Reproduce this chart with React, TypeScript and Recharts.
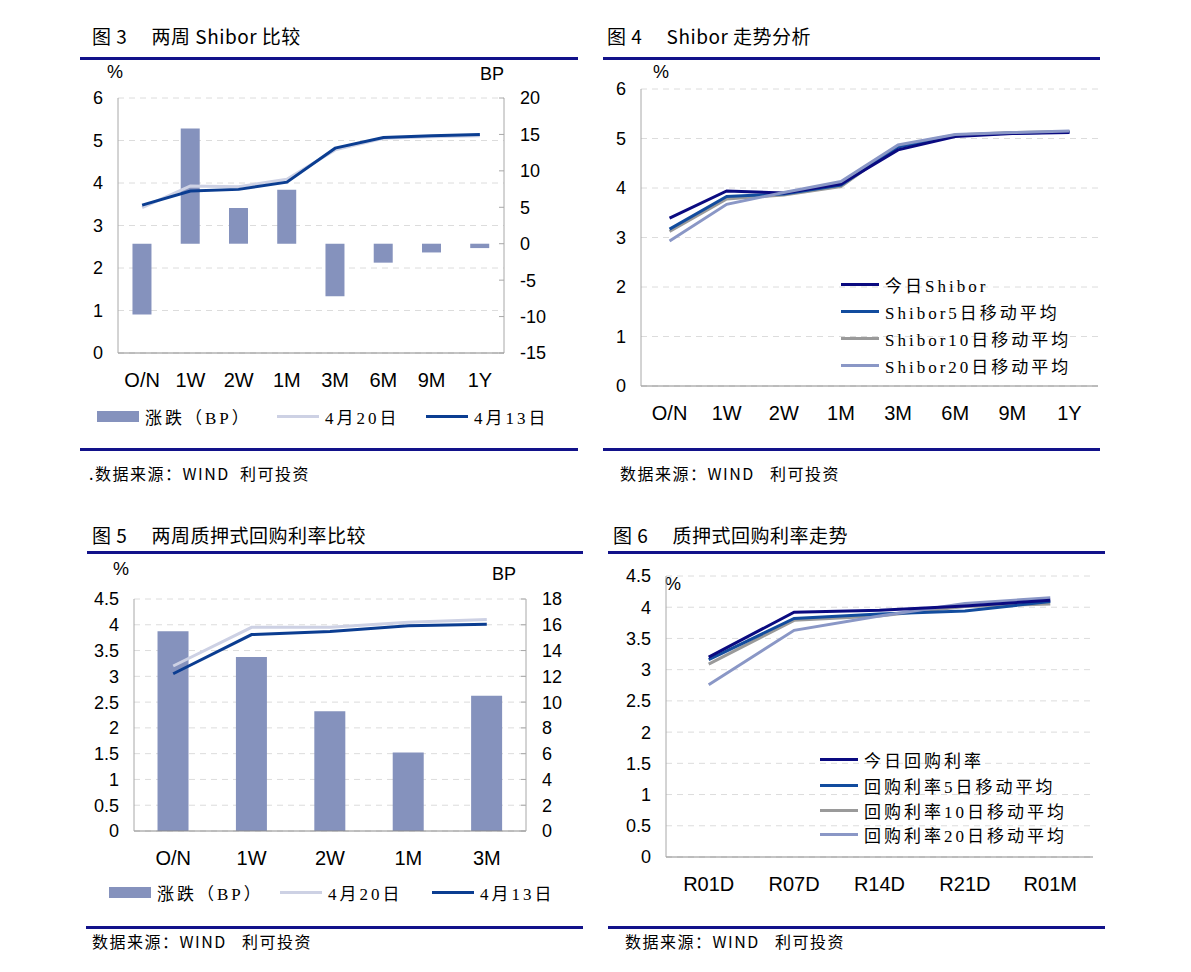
import React from 'react';
import {
  ComposedChart, Bar, Line, XAxis, YAxis, CartesianGrid, LineChart,
} from 'recharts';

// ---- data ----
const shiborTerms = ['O/N', '1W', '2W', '1M', '3M', '6M', '9M', '1Y'];
const shiborChangeBP = [-9.7, 15.8, 4.9, 7.4, -7.2, -2.6, -1.2, -0.6];
const shiborApr20 = [3.42, 3.93, 3.91, 4.09, 4.78, 5.05, 5.09, 5.11];
const shiborApr13 = [3.48, 3.81, 3.85, 4.02, 4.82, 5.07, 5.11, 5.14];

const shiborToday = [3.39, 3.94, 3.9, 4.08, 4.77, 5.04, 5.1, 5.12];
const shiborMA5 = [3.17, 3.83, 3.88, 4.06, 4.83, 5.06, 5.11, 5.13];
const shiborMA10 = [3.12, 3.78, 3.86, 4.03, 4.85, 5.07, 5.12, 5.14];
const shiborMA20 = [2.93, 3.67, 3.91, 4.13, 4.87, 5.08, 5.12, 5.15];

const repoTerms = ['O/N', '1W', '2W', '1M', '3M'];
const repoChangeBP = [15.5, 13.5, 9.3, 6.1, 10.5];
const repoApr20 = [3.2, 3.95, 3.95, 4.05, 4.1];
const repoApr13 = [3.05, 3.81, 3.87, 3.98, 4.01];

const repoCodes = ['R01D', 'R07D', 'R14D', 'R21D', 'R01M'];
const repoToday = [3.2, 3.92, 3.95, 4.02, 4.11];
const repoMA5 = [3.16, 3.82, 3.89, 3.94, 4.09];
const repoMA10 = [3.09, 3.79, 3.86, 4.01, 4.05];
const repoMA20 = [2.76, 3.63, 3.86, 4.06, 4.15];

const leftTicks1 = [0, 1, 2, 3, 4, 5, 6];
const rightTicks1 = [-15, -10, -5, 0, 5, 10, 15, 20];
const leftTicks3 = [0, 0.5, 1, 1.5, 2, 2.5, 3, 3.5, 4, 4.5];
const rightTicks3 = [0, 2, 4, 6, 8, 10, 12, 14, 16, 18];

// ---- styles ----
const BAR = '#8592bd';
const LIGHT = '#cdd1e4';
const DARK = '#0b3d91';
const NAVY = '#0a0a80';
const MID = '#124c9e';
const GREY = '#9a9a9a';
const STEEL = '#8a97c6';
const RULE = '#12128a';
const AXIS = '#a8a8a8';
const GRID = '#dcdcdc';
const NUM_FONT = '"Liberation Sans", Arial, sans-serif';
const CJK = '"Noto Sans CJK SC", "Liberation Sans", sans-serif';
const LEG_FONT = '"Liberation Serif", "Noto Sans CJK SC", serif';

type Plot = { left: number; top: number; right: number; bottom: number };

const P1: Plot = { left: 118, top: 98, right: 504, bottom: 353 };
const P2: Plot = { left: 641, top: 89, right: 1098, bottom: 386 };
const P3: Plot = { left: 134, top: 599, right: 526, bottom: 831 };
const P4: Plot = { left: 666, top: 576, right: 1093, bottom: 857 };

function box(p: Plot, hasRight: boolean) {
  return {
    left: p.left - 60,
    top: p.top - 10,
    width: p.right - p.left + 60 + 70,
    height: p.bottom - p.top + 10 + 50,
    margin: { top: 10, left: 0, bottom: 0, right: hasRight ? 10 : 70 },
  };
}

// category label plus the small inward tick at each band boundary
function makeCatTick(p: Plot, n: number) {
  const band = (p.right - p.left) / n;
  return (props: any) => {
    const { x, y, payload } = props;
    const ex = x + band / 2;
    return (
      <g>
        <line x1={ex} x2={ex} y1={p.bottom} y2={p.bottom - 5} stroke={AXIS} />
        <text x={x} y={y} dy="0.71em" textAnchor="middle" fill="#000"
          fontSize={20} fontFamily={NUM_FONT}>{payload.value}</text>
      </g>
    );
  };
}

const numTick = { fill: '#000', fontSize: 18, fontFamily: NUM_FONT };

function Abs({ x, y, children, style }: any) {
  return <div style={{ position: 'absolute', left: x, top: y, whiteSpace: 'pre', ...style }}>{children}</div>;
}

function Title({ x, y, text }: { x: number; y: number; text: string }) {
  return <Abs x={x} y={y - 13} style={{ fontFamily: CJK, fontSize: 19, lineHeight: '26px', letterSpacing: 0.5, color: '#000' }}>{text}</Abs>;
}

function Rule({ x1, x2, y }: { x1: number; x2: number; y: number }) {
  return <div style={{ position: 'absolute', left: x1, top: y - 1, width: x2 - x1, height: 3, background: RULE }} />;
}

function Source({ x, y, text }: { x: number; y: number; text: string }) {
  return <Abs x={x} y={y - 11} style={{ fontFamily: CJK, fontSize: 16, lineHeight: '22px', letterSpacing: 1.5, color: '#000' }}>{text}</Abs>;
}

function Unit({ x, y, text }: { x: number; y: number; text: string }) {
  return <Abs x={x} y={y - 11} style={{ fontFamily: NUM_FONT, fontSize: 18, lineHeight: '22px', color: '#000' }}>{text}</Abs>;
}

function LegendItem({ x, y, color, kind, label, sw = 42 }: any) {
  return (
    <Abs x={x} y={y - 11} style={{ display: 'flex', alignItems: 'center', height: 22 }}>
      <div style={{ width: sw, height: kind === 'bar' ? 11 : 3, background: color, marginRight: 6 }} />
      <span style={{ fontFamily: LEG_FONT, fontSize: 17, letterSpacing: 3, color: '#000' }}>{label}</span>
    </Abs>
  );
}

export default function App() {
  const d1 = shiborTerms.map((t, i) => ({ t, bp: shiborChangeBP[i], a20: shiborApr20[i], a13: shiborApr13[i] }));
  const d2 = shiborTerms.map((t, i) => ({ t, today: shiborToday[i], ma5: shiborMA5[i], ma10: shiborMA10[i], ma20: shiborMA20[i] }));
  const d3 = repoTerms.map((t, i) => ({ t, bp: repoChangeBP[i], a20: repoApr20[i], a13: repoApr13[i] }));
  const d4 = repoCodes.map((t, i) => ({ t, today: repoToday[i], ma5: repoMA5[i], ma10: repoMA10[i], ma20: repoMA20[i] }));

  const b1 = box(P1, true);
  const b2 = box(P2, false);
  const b3 = box(P3, true);
  const b4 = box(P4, false);

  const abs = (b: any) => ({ position: 'absolute' as const, left: b.left, top: b.top });

  return (
    <div style={{ position: 'absolute', left: 0, top: 0, width: 1191, height: 972, background: '#fff', overflow: 'hidden' }}>
      {/* 图3 */}
      <Title x={92} y={36} text="图 3　 两周 Shibor 比较" />
      <Rule x1={80} x2={578} y={58} />
      <Unit x={107} y={72} text="%" />
      <Unit x={480} y={74} text="BP" />
      <div style={abs(b1)}>
        <ComposedChart width={b1.width} height={b1.height} data={d1} margin={b1.margin} barCategoryGap="30%">
          <CartesianGrid yAxisId="l" vertical={false} stroke={GRID} strokeDasharray="6 5" />
          <XAxis dataKey="t" height={50} tickLine={false} tickMargin={14} stroke="#8a8a8a"
            tick={makeCatTick(P1, shiborTerms.length)} interval={0} />
          <YAxis yAxisId="l" width={60} domain={[0, 6]} ticks={leftTicks1} interval={0} tickLine={false}
            tickMargin={9} stroke={AXIS} tick={numTick} />
          <YAxis yAxisId="r" orientation="right" width={60} domain={[-15, 20]} ticks={rightTicks1} interval={0}
            tickSize={-5} tickMargin={21} stroke={AXIS} tick={{ ...numTick, textAnchor: 'start' }} />
          <Bar yAxisId="r" dataKey="bp" fill={BAR} isAnimationActive={false} />
          <Line yAxisId="l" dataKey="a20" stroke={LIGHT} strokeWidth={3} dot={false} isAnimationActive={false} />
          <Line yAxisId="l" dataKey="a13" stroke={DARK} strokeWidth={3} dot={false} isAnimationActive={false} />
        </ComposedChart>
      </div>
      <LegendItem x={97} y={416} color={BAR} kind="bar" label="涨跌（BP）" />
      <LegendItem x={277} y={416} color={LIGHT} kind="line" label="4月20日" />
      <LegendItem x={426} y={416} color={DARK} kind="line" label="4月13日" />
      <Rule x1={80} x2={578} y={449} />
      <Source x={89} y={473} text=".数据来源：WIND  利可投资" />

      {/* 图4 */}
      <Title x={607} y={36} text="图 4　 Shibor 走势分析" />
      <Rule x1={603} x2={1100} y={58} />
      <Unit x={653} y={72} text="%" />
      <div style={abs(b2)}>
        <LineChart width={b2.width} height={b2.height} data={d2} margin={b2.margin}>
          <CartesianGrid vertical={false} stroke={GRID} strokeDasharray="6 5" />
          <XAxis dataKey="t" scale="band" height={50} tickLine={false} tickMargin={14} stroke="#8a8a8a"
            tick={makeCatTick(P2, shiborTerms.length)} interval={0} />
          <YAxis width={60} domain={[0, 6]} ticks={leftTicks1} interval={0} tickLine={false}
            tickMargin={9} stroke={AXIS} tick={numTick} />
          <Line dataKey="ma10" stroke={GREY} strokeWidth={3} dot={false} isAnimationActive={false} />
          <Line dataKey="ma5" stroke={MID} strokeWidth={3} dot={false} isAnimationActive={false} />
          <Line dataKey="today" stroke={NAVY} strokeWidth={3} dot={false} isAnimationActive={false} />
          <Line dataKey="ma20" stroke={STEEL} strokeWidth={3} dot={false} isAnimationActive={false} />
        </LineChart>
      </div>
      <LegendItem x={841} y={284} color={NAVY} kind="line" label="今日Shibor" sw={38} />
      <LegendItem x={841} y={311} color={MID} kind="line" label="Shibor5日移动平均" sw={38} />
      <LegendItem x={841} y={338} color={GREY} kind="line" label="Shibor10日移动平均" sw={38} />
      <LegendItem x={841} y={365} color={STEEL} kind="line" label="Shibor20日移动平均" sw={38} />
      <Rule x1={603} x2={1100} y={449} />
      <Source x={620} y={473} text="数据来源：WIND   利可投资" />

      {/* 图5 */}
      <Title x={92} y={535} text="图 5　 两周质押式回购利率比较" />
      <Rule x1={87} x2={583} y={552} />
      <Unit x={113} y={569} text="%" />
      <Unit x={492} y={574} text="BP" />
      <div style={abs(b3)}>
        <ComposedChart width={b3.width} height={b3.height} data={d3} margin={b3.margin} barCategoryGap="30%">
          <CartesianGrid yAxisId="l" vertical={false} stroke={GRID} strokeDasharray="6 5" />
          <XAxis dataKey="t" height={50} tickLine={false} tickMargin={14} stroke="#8a8a8a"
            tick={makeCatTick(P3, repoTerms.length)} interval={0} />
          <YAxis yAxisId="l" width={60} domain={[0, 4.5]} ticks={leftTicks3} interval={0} tickLine={false}
            tickMargin={9} stroke={AXIS} tick={numTick} />
          <YAxis yAxisId="r" orientation="right" width={60} domain={[0, 18]} ticks={rightTicks3} interval={0}
            tickSize={-5} tickMargin={21} stroke={AXIS} tick={{ ...numTick, textAnchor: 'start' }} />
          <Bar yAxisId="r" dataKey="bp" fill={BAR} isAnimationActive={false} />
          <Line yAxisId="l" dataKey="a20" stroke={LIGHT} strokeWidth={3} dot={false} isAnimationActive={false} />
          <Line yAxisId="l" dataKey="a13" stroke={DARK} strokeWidth={3} dot={false} isAnimationActive={false} />
        </ComposedChart>
      </div>
      <LegendItem x={109} y={892} color={BAR} kind="bar" label="涨跌（BP）" />
      <LegendItem x={280} y={892} color={LIGHT} kind="line" label="4月20日" />
      <LegendItem x={432} y={892} color={DARK} kind="line" label="4月13日" />
      <Rule x1={86} x2={583} y={927} />
      <Source x={92} y={941} text="数据来源：WIND   利可投资" />

      {/* 图6 */}
      <Title x={613} y={535} text="图 6　 质押式回购利率走势" />
      <Rule x1={608} x2={1105} y={552} />
      <Unit x={665} y={584} text="%" />
      <div style={abs(b4)}>
        <LineChart width={b4.width} height={b4.height} data={d4} margin={b4.margin}>
          <CartesianGrid vertical={false} stroke={GRID} strokeDasharray="6 5" />
          <XAxis dataKey="t" scale="band" height={50} tickLine={false} tickMargin={14} stroke="#8a8a8a"
            tick={makeCatTick(P4, repoCodes.length)} interval={0} />
          <YAxis width={60} domain={[0, 4.5]} ticks={leftTicks3} interval={0} tickLine={false}
            tickMargin={9} stroke={AXIS} tick={numTick} />
          <Line dataKey="ma10" stroke={GREY} strokeWidth={3} dot={false} isAnimationActive={false} />
          <Line dataKey="ma5" stroke={MID} strokeWidth={3} dot={false} isAnimationActive={false} />
          <Line dataKey="ma20" stroke={STEEL} strokeWidth={3} dot={false} isAnimationActive={false} />
          <Line dataKey="today" stroke={NAVY} strokeWidth={3} dot={false} isAnimationActive={false} />
        </LineChart>
      </div>
      <LegendItem x={820} y={759} color={NAVY} kind="line" label="今日回购利率" sw={38} />
      <LegendItem x={820} y={785} color={MID} kind="line" label="回购利率5日移动平均" sw={38} />
      <LegendItem x={820} y={810} color={GREY} kind="line" label="回购利率10日移动平均" sw={38} />
      <LegendItem x={820} y={834} color={STEEL} kind="line" label="回购利率20日移动平均" sw={38} />
      <Rule x1={608} x2={1105} y={927} />
      <Source x={625} y={941} text="数据来源：WIND   利可投资" />
    </div>
  );
}
